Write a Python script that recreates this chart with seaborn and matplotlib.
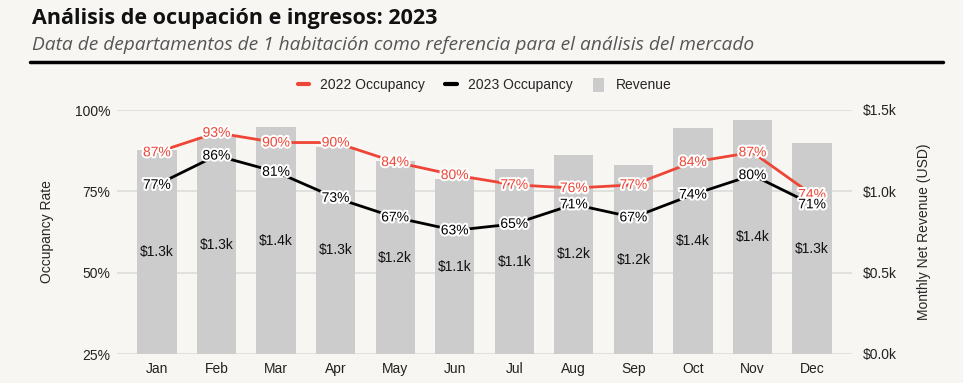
import numpy as np
import pandas as pd
import seaborn as sns
import matplotlib.pyplot as plt
import matplotlib.patheffects as pe
from matplotlib.lines import Line2D
from matplotlib.patches import Patch

# Data
MONTHS = ['Jan', 'Feb', 'Mar', 'Apr', 'May', 'Jun', 'Jul', 'Aug', 'Sep', 'Oct', 'Nov', 'Dec']
OCC_2022 = [87, 93, 90, 90, 84, 80, 77, 76, 77, 84, 87, 74]
OCC_2023 = [77, 86, 81, 73, 67, 63, 65, 71, 67, 74, 80, 71]
REVENUE = [1255, 1335, 1395, 1275, 1185, 1075, 1135, 1225, 1160, 1390, 1440, 1295]

BG = '#f8f6f2'
RED = '#ee4536'
BLACK = '#000000'
BAR = '#cccccc'
GRID = '#dcdcdc'

sns.set_theme(style='white')
plt.rcParams['font.family'] = ['Liberation Sans', 'DejaVu Sans']
plt.rcParams['axes.facecolor'] = BG
plt.rcParams['figure.facecolor'] = BG

fig = plt.figure(figsize=(9.63, 3.83), dpi=100)
ax = fig.add_axes([117 / 963, 1 - 354 / 383, (852 - 117) / 963, (354 - 110) / 383])

# revenue bars (right axis)
rev_df = pd.DataFrame({'month': MONTHS, 'revenue': REVENUE})
sns.barplot(data=rev_df, x='month', y='revenue', color=BAR, width=0.66,
            saturation=1, linewidth=0, ax=ax, zorder=2)
ax.set_xlabel('')
ax.set_xlim(-0.67, 11.67)
ax.grid(axis='y', color=GRID, linewidth=1.2)
ax.set_axisbelow(True)
for s in ax.spines.values():
    s.set_visible(False)
for c in ax.containers:
    ax.bar_label(c, labels=[f'${v / 1000:.1f}k' for v in REVENUE],
                 label_type='center', fontsize=10, color='#111111')

# occupancy lines (left axis)
ax2 = ax.twinx()
x = np.arange(len(MONTHS))
occ = pd.DataFrame({
    'x': np.concatenate([x, x]),
    'occ': OCC_2022 + OCC_2023,
    'series': ['2022 Occupancy'] * len(x) + ['2023 Occupancy'] * len(x),
})
sns.lineplot(data=occ, x='x', y='occ', hue='series', sort=False,
             palette={'2022 Occupancy': RED, '2023 Occupancy': BLACK},
             linewidth=2, legend=False, ax=ax2, zorder=3)
ax2.set_ylim(25, 100)
ax2.set_yticks([25, 50, 75, 100])
ax2.set_yticklabels([f'{v}%' for v in [25, 50, 75, 100]])
ax2.yaxis.tick_left()
ax2.yaxis.set_label_position('left')
ax2.set_ylabel('Occupancy Rate', fontsize=10, labelpad=15)
ax2.set_xlabel('')
ax2.tick_params(axis='y', length=0, labelsize=10, colors='#222222', pad=5)
ax2.grid(False)
for s in ax2.spines.values():
    s.set_visible(False)

# revenue axis to the right (after twinx, which resets it)
ax.set_ylim(0, 1500)
ax.set_yticks([0, 500, 1000, 1500])
ax.set_yticklabels([f'${v / 1000:.1f}k' for v in [0, 500, 1000, 1500]])
ax.yaxis.tick_right()
ax.yaxis.set_label_position('right')
ax.set_ylabel('Monthly Net Revenue (USD)', fontsize=10, labelpad=14)
ax.tick_params(axis='both', length=0, labelsize=10, colors='#222222')
ax.tick_params(axis='y', pad=8)
ax.tick_params(axis='x', pad=6)

stroke = [pe.withStroke(linewidth=3, foreground='white')]
for vals, col in [(OCC_2022, RED), (OCC_2023, BLACK)]:
    for i, v in enumerate(vals):
        ax2.text(i, v, f'{v}%', ha='center', va='center', fontsize=10,
                 color=col, path_effects=stroke, zorder=4)

# legend
handles = [Line2D([], [], color=RED, linewidth=3),
           Line2D([], [], color=BLACK, linewidth=3),
           Patch(facecolor=BAR, edgecolor='none')]
fig.legend(handles, ['2022 Occupancy', '2023 Occupancy', 'Revenue'],
           loc='center', bbox_to_anchor=(0.503, 1 - 85 / 383), ncol=3,
           frameon=False, fontsize=10, handlelength=0.8, handleheight=1.2,
           columnspacing=1.5, handletextpad=0.8)

# title block
fig.text(32 / 963, 1 - 8 / 383, 'Análisis de ocupación e ingresos: 2023',
         fontsize=15.5, fontweight='bold', family='Open Sans', va='top', color='#111111')
fig.text(32 / 963, 1 - 36 / 383,
         'Data de departamentos de 1 habitación como referencia para el análisis del mercado',
         fontsize=13.8, style='italic', family='Open Sans', va='top', color='#555555')
fig.add_artist(Line2D([30 / 963, 943 / 963], [1 - 62 / 383, 1 - 62 / 383],
                      color='black', linewidth=2.5))

fig.savefig('out.png', dpi=100, facecolor=BG)
